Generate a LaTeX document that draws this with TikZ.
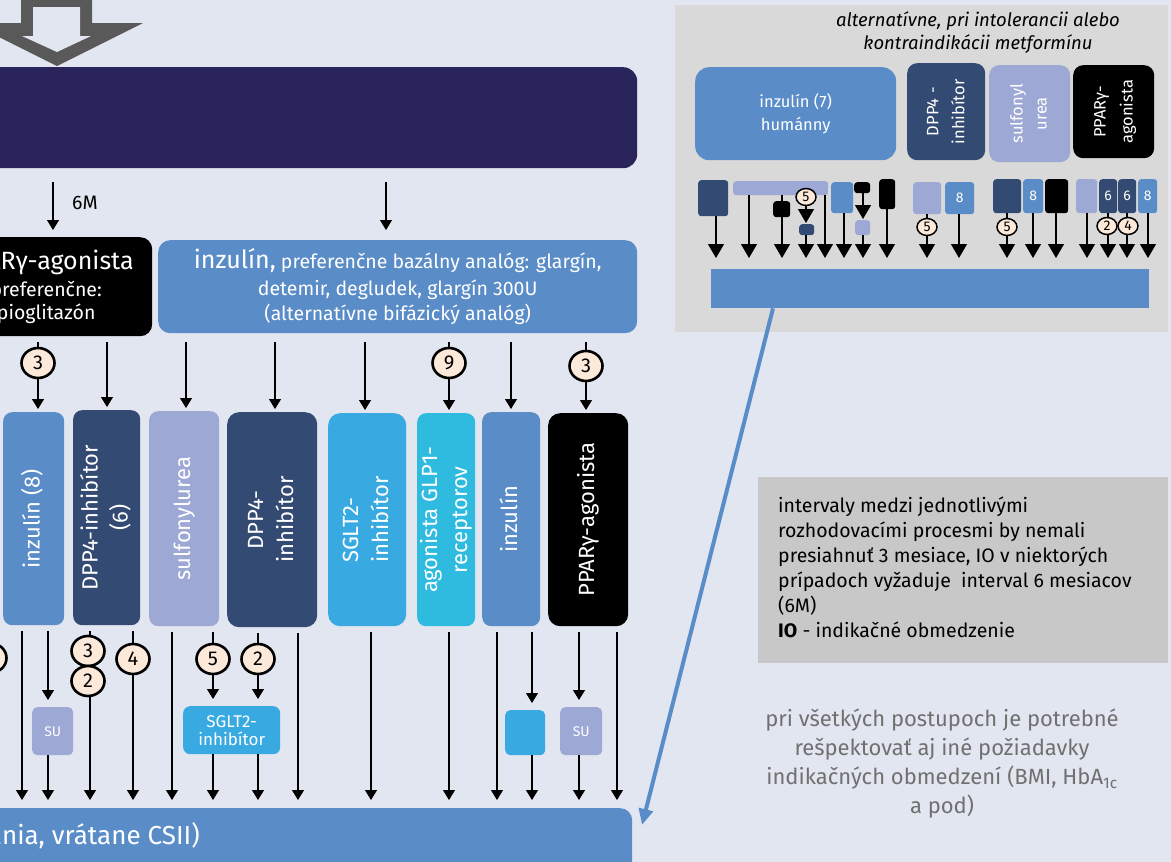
\documentclass[tikz,border=0pt]{standalone}
\usepackage{fontspec}
\setmainfont{Fira Sans}
\usepackage{graphicx}
\usetikzlibrary{arrows.meta,shapes.geometric}
\definecolor{bg}{HTML}{E2E6F0}
\definecolor{navyban}{HTML}{29245B}
\definecolor{medblue}{HTML}{5A8DC8}
\definecolor{navy}{HTML}{334A73}
\definecolor{lav}{HTML}{9DA8D5}
\definecolor{bblue}{HTML}{38AAE1}
\definecolor{cyanb}{HTML}{2EBBDF}
\definecolor{gboxc}{HTML}{D9D9D9}
\definecolor{rboxc}{HTML}{C8C8C8}
\definecolor{peach}{HTML}{FDE9D9}
\definecolor{arrgrey}{HTML}{595959}
\definecolor{txtgrey}{HTML}{707070}
\newcommand{\rtxt}[3]{\makebox[0pt]{\rotatebox{90}{\fontsize{#1}{#2}\selectfont\begin{tabular}{@{}c@{}}#3\end{tabular}}}}
\newcommand{\rtxtl}[3]{\makebox[0pt]{\rotatebox{90}{\fontsize{#1}{#2}\selectfont\begin{tabular}{@{}l@{}}#3\end{tabular}}}}
\begin{document}
\begin{tikzpicture}[x=1pt,y=-1pt,
  box/.style={rectangle, rounded corners=9pt, inner sep=0pt, text=white, align=center, anchor=north west},
  plain/.style={rectangle, inner sep=0pt, anchor=north west},
  sq/.style={rectangle, rounded corners=3pt, inner sep=0pt, anchor=north west, text=white, font=\fontsize{14}{14}\selectfont},
  arr/.style={-{Triangle[width=12pt,length=10pt]}, line width=1.2pt},
  arrB/.style={arr, shorten <=6pt, shorten >=8pt},
  arrT/.style={arr, shorten <=6pt, shorten >=7pt},
  arrF/.style={arr, shorten >=8pt},
  arrS/.style={-{Triangle[width=16pt,length=14pt]}, line width=1.3pt},
  circ/.style={ellipse, draw=black, line width=2.6pt, fill=peach, minimum width=33pt, minimum height=30pt, inner sep=0pt, font=\fontsize{20}{20}\selectfont},
  circS/.style={ellipse, draw=black, line width=1.5pt, fill=peach, minimum width=20pt, minimum height=17pt, inner sep=0pt, font=\fontsize{14}{14}\selectfont}
]
\useasboundingbox (0,0) rectangle (1171,862);
\clip (0,0) rectangle (1171,862);
\fill[bg] (0,0) rectangle (1171,862);

% top hollow arrow
\fill[arrgrey] (21,-5) -- (92,-5) -- (92,23) -- (143,23) -- (57,66) -- (-29,23) -- (21,23) -- cycle;
\fill[bg] (33,7) -- (80,7) -- (80,36) -- (91,36) -- (57,52) -- (22,36) -- (33,36) -- cycle;

% banner
\node[plain, fill=navyban, rounded corners=14pt, minimum width=837pt, minimum height=101pt] (banner) at (-200,67) {};

% second row
\node[box, fill=black, rounded corners=12pt, minimum width=212pt, minimum height=99pt, font=\fontsize{19.5}{23}\selectfont] (blk) at (-60,237) {{\fontsize{25}{28}\selectfont PPARγ-agonista}\\[4pt]preferenčne:\\pioglitazón};
\node[box, fill=medblue, rounded corners=12pt, minimum width=479pt, minimum height=93pt, font=\fontsize{19.5}{25}\selectfont] (ins) at (158,240) {{\fontsize{25}{28}\selectfont inzulín,} preferenčne bazálny analóg: glargín,\\[2pt]detemir, degludek, glargín 300U\\(alternatívne bifázický analóg)};
\node[font=\fontsize{19.5}{20}\selectfont, anchor=west, inner sep=0pt] (sixm) at (72,203) {6M};
\draw[arr, shorten <=14pt, shorten >=7pt] (53,0 |- banner.south) -- (53,0 |- blk.north);
\draw[arr, shorten <=14pt, shorten >=10pt] (386,0 |- banner.south) -- (386,0 |- ins.north);

% middle row
\node[box, fill=medblue, minimum width=61pt, minimum height=213pt] (m1) at (3,412) {\rtxt{22}{30}{inzulín (8)}};
\node[box, fill=navy, minimum width=67pt, minimum height=215pt] (m2) at (73,410) {\rtxt{22}{30}{DPP4-inhibítor\\(6)}};
\node[box, fill=lav, minimum width=70pt, minimum height=215pt] (m3) at (149,411) {\rtxt{22}{30}{sulfonylurea}};
\node[box, fill=navy, rounded corners=12pt, minimum width=90pt, minimum height=215pt] (m4) at (227,412) {\rtxt{22}{30}{DPP4-\\inhibítor}};
\node[box, fill=bblue, rounded corners=12pt, minimum width=78pt, minimum height=213pt] (m5) at (328,413) {\rtxtl{22}{30}{SGLT2-\\inhibítor}};
\node[box, fill=cyanb, minimum width=58pt, minimum height=213pt] (m6) at (417,413) {\rtxt{22}{30}{agonista GLP1-\\receptorov}};
\node[box, fill=medblue, minimum width=58pt, minimum height=214pt] (m7) at (482,412) {\rtxt{22}{30}{inzulín}};
\node[box, fill=black, rounded corners=12pt, minimum width=80pt, minimum height=213pt] (m8) at (548,413) {\rtxt{22}{30}{PPARγ-agonista}};

\draw[arr, shorten <=6pt, shorten >=3pt] (38,0 |- blk.south) -- (38,0 |- m1.north);
\draw[arr, shorten <=6pt, shorten >=3pt] (107,0 |- blk.south) -- (107,0 |- m2.north);
\foreach \xx/\nn in {186/m3, 275/m4, 365/m5, 449/m6, 511/m7, 586/m8}
  \draw[arr, shorten <=9pt, shorten >=3pt] (\xx,0 |- ins.south) -- (\xx,0 |- \nn.north);
\node[circ] (k1) at (38,363) {3};
\node[circ] (k2) at (449,363) {9};
\node[circ] (k3) at (586,366) {3};

% bottom
\node[plain, fill=medblue, rounded corners=12pt, minimum width=832pt, minimum height=100pt] (bot) at (-200,808) {};
\node[anchor=east, inner sep=0pt, text=white, font=\fontsize{26}{26}\selectfont] (bottxt) at (200,836) {ania, vrátane CSII)};

\node[box, fill=lav, rounded corners=5pt, minimum width=41pt, minimum height=48pt, font=\fontsize{14}{14}\selectfont] (su1) at (32,707) {SU};
\node[box, fill=bblue, rounded corners=7pt, minimum width=97pt, minimum height=48pt, font=\fontsize{17}{18}\selectfont] (sg) at (183,706) {SGLT2-\\inhibítor};
\node[box, fill=bblue, rounded corners=5pt, minimum width=40pt, minimum height=45pt] (bb) at (505,710) {};
\node[box, fill=lav, rounded corners=5pt, minimum width=42pt, minimum height=48pt, font=\fontsize{14}{14}\selectfont] (su2) at (560,707) {SU};

\draw[arrB] (22,0 |- m1.south) -- (22,0 |- bot.north);
\draw[arrT] (48,0 |- m1.south) -- (48,0 |- su1.north);
\draw[arrF] (48,0 |- su1.south) -- (48,0 |- bot.north);
\draw[arrB] (90,0 |- m2.south) -- (90,0 |- bot.north);
\draw[arrB] (133,0 |- m2.south) -- (133,0 |- bot.north);
\draw[arrB] (172,0 |- m3.south) -- (172,0 |- bot.north);
\draw[arrT] (213,0 |- m3.south) -- (213,0 |- sg.north);
\draw[arrT] (258,0 |- m4.south) -- (258,0 |- sg.north);
\draw[arrF] (213,0 |- sg.south) -- (213,0 |- bot.north);
\draw[arrF] (258,0 |- sg.south) -- (258,0 |- bot.north);
\draw[arrB] (298,0 |- m4.south) -- (298,0 |- bot.north);
\draw[arrB] (371,0 |- m5.south) -- (371,0 |- bot.north);
\draw[arrB] (449,0 |- m6.south) -- (449,0 |- bot.north);
\draw[arrB] (497,0 |- m7.south) -- (497,0 |- bot.north);
\draw[arrT] (532,0 |- m7.south) -- (532,0 |- bb.north);
\draw[arrF] (532,0 |- bb.south) -- (532,0 |- bot.north);
\draw[arrT] (579,0 |- m8.south) -- (579,0 |- su2.north);
\draw[arrF] (579,0 |- su2.south) -- (579,0 |- bot.north);
\draw[arrB] (617,0 |- m8.south) -- (617,0 |- bot.north);

\node[circ] (b0) at (-10,658) {};
\node[circ] (b1) at (88,651) {3};
\node[circ] (b2) at (88,681) {2};
\node[circ] (b3) at (133,659) {4};
\node[circ] (b4) at (213,659) {5};
\node[circ] (b5) at (258,659) {2};

% grey box top right
\node[plain, fill=gboxc, minimum width=493pt, minimum height=327pt] (gbox) at (675,5) {};
\node[font=\itshape\fontsize{18.5}{23}\selectfont, align=center, inner sep=0pt] (ghead) at (978,33) {alternatívne, pri intolerancii alebo\\kontraindikácii metformínu};
\node[box, fill=medblue, rounded corners=14pt, minimum width=201pt, minimum height=93pt, font=\fontsize{16.5}{23}\selectfont] (g1) at (695,67) {inzulín (7)\\humánny};
\node[box, fill=navy, rounded corners=10pt, minimum width=78pt, minimum height=97pt] (g2) at (907,63) {\rtxt{16.5}{26}{DPP4 -\\inhibítor}};
\node[box, fill=lav, rounded corners=10pt, minimum width=81pt, minimum height=97pt] (g3) at (989,65) {\rtxt{16.5}{24}{sulfonyl\\urea}};
\node[box, fill=black, rounded corners=10pt, minimum width=81pt, minimum height=93pt] (g4) at (1073,65) {\rtxt{16.5}{27}{PPARγ-\\agonista}};
\node[plain, fill=medblue, minimum width=438pt, minimum height=39pt] (gbar) at (711,269) {};

\node[sq, fill=navy, minimum width=30pt, minimum height=36pt] (s1) at (698,180) {};
\node[sq, fill=lav, minimum width=95pt, minimum height=14pt] (s2) at (733,181) {};
\node[sq, fill=black, minimum width=17pt, minimum height=16pt] (s3) at (773,201) {};
\node[sq, fill=navy, minimum width=15pt, minimum height=11pt] (s4) at (799,224) {};
\node[sq, fill=medblue, minimum width=22pt, minimum height=31pt] (s5) at (831,182) {};
\node[sq, fill=black, minimum width=16pt, minimum height=11pt] (s6) at (854,182) {};
\node[sq, fill=lav, minimum width=15pt, minimum height=15pt] (s7) at (855,220) {};
\node[sq, fill=black, minimum width=16pt, minimum height=30pt] (s8) at (879,179) {};
\node[sq, fill=lav, minimum width=28pt, minimum height=32pt] (s9) at (913,182) {};
\node[sq, fill=medblue, minimum width=29pt, minimum height=32pt] (s10) at (945,182) {8};
\node[sq, fill=navy, minimum width=28pt, minimum height=34pt] (s11) at (993,179) {};
\node[sq, fill=medblue, minimum width=20pt, minimum height=34pt] (s12) at (1023,179) {8};
\node[sq, fill=black, minimum width=23pt, minimum height=34pt] (s13) at (1045,179) {};
\node[sq, fill=lav, minimum width=21pt, minimum height=34pt] (s14) at (1076,179) {};
\node[sq, fill=navy, minimum width=18pt, minimum height=34pt] (s15) at (1099,179) {6};
\node[sq, fill=navy, minimum width=18pt, minimum height=34pt] (s16) at (1118,179) {6};
\node[sq, fill=medblue, minimum width=19pt, minimum height=34pt] (s17) at (1138,179) {8};

\draw[arrS, shorten >=11pt] (716,0 |- s1.south) -- (716,0 |- gbar.north);
\draw[arrS, shorten >=11pt] (749,0 |- s2.south) -- (749,0 |- gbar.north);
\draw[arrS, shorten >=11pt] (825,0 |- s2.south) -- (825,0 |- gbar.north);
\draw[line width=1.3pt] (782,0 |- s2.south) -- (782,0 |- s3.north);
\draw[arrS, shorten >=11pt] (782,0 |- s3.south) -- (782,0 |- gbar.north);
\node[circS] (q1) at (806,197) {5};
\draw[arrS, shorten >=1pt] (q1) -- (806,0 |- s4.north);
\draw[arrS, shorten >=11pt] (806,0 |- s4.south) -- (806,0 |- gbar.north);
\draw[arrS, shorten >=11pt] (844,0 |- s5.south) -- (844,0 |- gbar.north);
\draw[arrS, shorten >=1pt] (863,0 |- s6.south) -- (863,0 |- s7.north);
\draw[arrS, shorten >=11pt] (863,0 |- s7.south) -- (863,0 |- gbar.north);
\draw[arrS, shorten >=11pt] (887,0 |- s8.south) -- (887,0 |- gbar.north);
\draw[arrS, shorten >=11pt] (927,0 |- s9.south) -- (927,0 |- gbar.north);
\draw[arrS, shorten >=11pt] (959,0 |- s10.south) -- (959,0 |- gbar.north);
\draw[arrS, shorten >=11pt] (1007,0 |- s11.south) -- (1007,0 |- gbar.north);
\draw[arrS, shorten >=11pt] (1033,0 |- s12.south) -- (1033,0 |- gbar.north);
\draw[arrS, shorten >=11pt] (1056,0 |- s13.south) -- (1056,0 |- gbar.north);
\draw[arrS, shorten >=11pt] (1087,0 |- s14.south) -- (1087,0 |- gbar.north);
\draw[arrS, shorten >=11pt] (1108,0 |- s15.south) -- (1108,0 |- gbar.north);
\draw[arrS, shorten >=11pt] (1127,0 |- s16.south) -- (1127,0 |- gbar.north);
\draw[arrS, shorten >=11pt] (1148,0 |- s17.south) -- (1148,0 |- gbar.north);
\node[circS] (q2) at (927,227) {5};
\node[circS] (q3) at (1007,227) {5};
\node[circS] (q4) at (1107,226) {2};
\node[circS] (q5) at (1128,226) {4};

% diagonal blue arrow
\coordinate (diagend) at (642,825);
\draw[line width=4pt, medblue, -{Triangle[width=14pt,length=16pt]}] (773,0 |- gbar.south) -- (diagend);

% right box
\node[plain, fill=rboxc, minimum width=410pt, minimum height=186pt] (rbox) at (758,477) {};
\node[anchor=north west, align=left, inner sep=0pt, font=\fontsize{19.5}{25}\selectfont] (rtext) at (778,497) {intervaly medzi jednotlivými\\rozhodovacími procesmi by nemali\\presiahnuť 3 mesiace, IO v niektorých\\prípadoch vyžaduje\ \ interval 6 mesiacov\\(6M)\\\textbf{IO} - indikačné obmedzenie};

% grey note
\node[align=center, inner sep=0pt, text=txtgrey, font=\fontsize{22}{29}\selectfont] (gnote) at (942,764) {pri všetkých postupoch je potrebné\\rešpektovať aj iné požiadavky\\indikačných obmedzení (BMI, HbA\textsubscript{1c}\\a pod)};
\end{tikzpicture}
\end{document}
